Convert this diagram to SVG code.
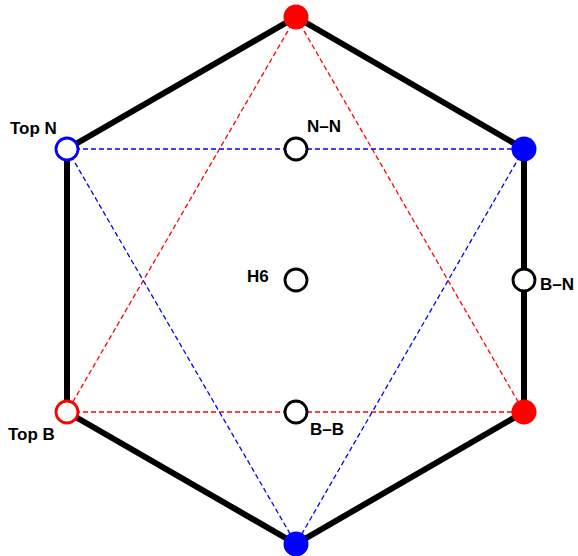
<svg xmlns="http://www.w3.org/2000/svg" width="578" height="556" viewBox="0 0 578 556">
<style>
.hex{fill:none;stroke:#000;stroke-width:6;stroke-linejoin:round}
.dr{stroke:#f00;stroke-width:1.3;stroke-dasharray:5,3;fill:none}
.db{stroke:#00f;stroke-width:1.3;stroke-dasharray:5,3;fill:none}
.lbl{font-family:"Liberation Sans",Arial,sans-serif;font-weight:bold;font-size:17px;fill:#000}
.open{fill:#fff;stroke-width:2.8}
</style>
<rect width="578" height="556" fill="#fff"/>
<g id="connectors">
<polygon class="hex" points="296,17 524,149 524,412 296,544 67,412 67,149"/>
<line class="dr" x1="296" y1="17" x2="67" y2="412"/>
<line class="dr" x1="296" y1="17" x2="524" y2="412"/>
<line class="dr" x1="67" y1="412" x2="524" y2="412"/>
<line class="db" x1="67" y1="149" x2="524" y2="149"/>
<line class="db" x1="67" y1="149" x2="296" y2="544"/>
<line class="db" x1="524" y1="149" x2="296" y2="544"/>
</g>
<g id="top"><circle cx="296" cy="17" r="12.5" fill="#f00"/></g>
<g id="upper-right"><circle cx="524" cy="149" r="12.5" fill="#00f"/></g>
<g id="lower-right"><circle cx="524" cy="412" r="12.5" fill="#f00"/></g>
<g id="bottom"><circle cx="296" cy="544" r="12.5" fill="#00f"/></g>
<g id="topN"><circle class="open" cx="67" cy="149" r="11" stroke="#00f"/><text class="lbl" x="10" y="134">Top N</text></g>
<g id="topB"><circle class="open" cx="67" cy="412" r="11" stroke="#f00"/><text class="lbl" x="8" y="440">Top B</text></g>
<g id="NN"><circle class="open" cx="296" cy="149" r="11" stroke="#000"/><text class="lbl" x="307" y="132">N–N</text></g>
<g id="H6"><circle class="open" cx="296" cy="280" r="11" stroke="#000"/><text class="lbl" x="247" y="282">H6</text></g>
<g id="BN"><circle class="open" cx="524" cy="280" r="11" stroke="#000"/><text class="lbl" x="540" y="290">B–N</text></g>
<g id="BB"><circle class="open" cx="296" cy="412" r="11" stroke="#000"/><text class="lbl" x="310" y="435">B–B</text></g>
</svg>
